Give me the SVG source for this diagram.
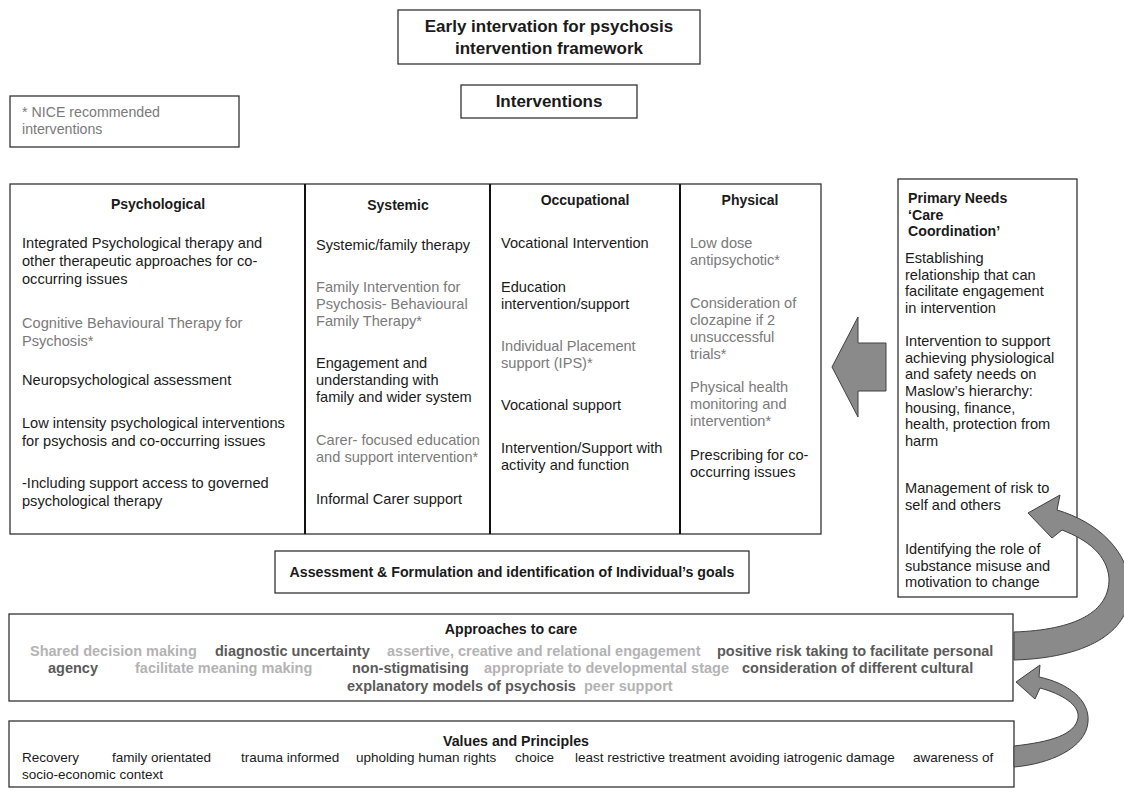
<svg xmlns="http://www.w3.org/2000/svg" width="1124" height="792" viewBox="0 0 1124 792">
<style>
text{font-family:"Liberation Sans",Arial,sans-serif;font-size:14.6px;fill:#1a1a1a}
.b{font-weight:bold;font-size:14.2px}
.h{font-weight:bold;text-anchor:middle;font-size:14px}
.t{font-weight:bold;font-size:17px;text-anchor:middle}
.g{fill:#7a7a7a}
.ap{font-weight:bold;font-size:14.5px}
.lg{fill:#b3b3b3}
.dg{fill:#5a5a5a}
.v{font-size:13.5px}
.box{fill:#fff;stroke:#333;stroke-width:1.3}
.div{stroke:#111;stroke-width:2}
.arr{fill:#8a8a8a;stroke:#404040;stroke-width:1}
</style>
<rect width="1124" height="792" fill="#fff"/>
<g id="title">
<rect class="box" x="398" y="10" width="302" height="54"/>
<text class="t" x="549" y="32">Early intervation for psychosis</text>
<text class="t" x="549" y="54">intervention framework</text>
</g>
<g id="interventions">
<rect class="box" x="461" y="85" width="176" height="33"/>
<text class="t" x="549" y="107">Interventions</text>
</g>
<g id="nice">
<rect class="box" x="10" y="96" width="229" height="51"/>
<text class="g" x="22" y="117" style="font-size:14.2px">* NICE recommended</text>
<text class="g" x="22" y="134" style="font-size:14.2px">interventions</text>
</g>
<g id="main">
<rect class="box" x="10" y="184" width="811" height="350" stroke="#222" stroke-width="1.5"/>
<line class="div" x1="305" y1="184" x2="305" y2="534"/>
<line class="div" x1="490" y1="184" x2="490" y2="534"/>
<line class="div" x1="680" y1="184" x2="680" y2="534"/>
</g>
<g id="psychological">
<text class="h" x="158" y="209">Psychological</text>
<text x="22" y="248">Integrated Psychological therapy and</text>
<text x="22" y="266">other therapeutic approaches for co-</text>
<text x="22" y="284">occurring issues</text>
<text class="g" x="22" y="328">Cognitive Behavioural Therapy for</text>
<text class="g" x="22" y="346">Psychosis*</text>
<text x="22" y="385">Neuropsychological assessment</text>
<text x="22" y="428">Low intensity psychological interventions</text>
<text x="22" y="446">for psychosis and co-occurring issues</text>
<text x="22" y="488">-Including support access to governed</text>
<text x="22" y="506">psychological therapy</text>
</g>
<g id="systemic">
<text class="h" x="398" y="210">Systemic</text>
<text x="316" y="250">Systemic/family therapy</text>
<text class="g" x="316" y="292">Family Intervention for</text>
<text class="g" x="316" y="309">Psychosis- Behavioural</text>
<text class="g" x="316" y="326">Family Therapy*</text>
<text x="316" y="368">Engagement and</text>
<text x="316" y="385">understanding with</text>
<text x="316" y="402">family and wider system</text>
<text class="g" x="316" y="445">Carer- focused education</text>
<text class="g" x="316" y="462">and support intervention*</text>
<text x="316" y="504">Informal Carer support</text>
</g>
<g id="occupational">
<text class="h" x="585" y="205">Occupational</text>
<text x="501" y="248">Vocational Intervention</text>
<text x="501" y="292">Education</text>
<text x="501" y="309">intervention/support</text>
<text class="g" x="501" y="351">Individual Placement</text>
<text class="g" x="501" y="368">support (IPS)*</text>
<text x="501" y="410">Vocational support</text>
<text x="501" y="453">Intervention/Support with</text>
<text x="501" y="470">activity and function</text>
</g>
<g id="physical">
<text class="h" x="750" y="205">Physical</text>
<text class="g" x="690" y="248">Low dose</text>
<text class="g" x="690" y="265">antipsychotic*</text>
<text class="g" x="690" y="308">Consideration of</text>
<text class="g" x="690" y="325">clozapine if 2</text>
<text class="g" x="690" y="342">unsuccessful</text>
<text class="g" x="690" y="359">trials*</text>
<text class="g" x="690" y="392">Physical health</text>
<text class="g" x="690" y="409">monitoring and</text>
<text class="g" x="690" y="426">intervention*</text>
<text x="690" y="460">Prescribing for co-</text>
<text x="690" y="477">occurring issues</text>
</g>
<g id="primary-needs">
<rect class="box" x="898" y="179" width="179" height="418"/>
<text class="b" x="908" y="203">Primary Needs</text>
<text class="b" x="908" y="219.5">‘Care</text>
<text class="b" x="908" y="236">Coordination’</text>
<text x="905" y="263">Establishing</text>
<text x="905" y="279.7">relationship that can</text>
<text x="905" y="296.3">facilitate engagement</text>
<text x="905" y="313">in intervention</text>
<text x="905" y="346">Intervention to support</text>
<text x="905" y="362.7">achieving physiological</text>
<text x="905" y="379.3">and safety needs on</text>
<text x="905" y="396">Maslow’s hierarchy:</text>
<text x="905" y="412.7">housing, finance,</text>
<text x="905" y="429.3">health, protection from</text>
<text x="905" y="446">harm</text>
<text x="905" y="493">Management of risk to</text>
<text x="905" y="509.7">self and others</text>
<text x="905" y="554">Identifying the role of</text>
<text x="905" y="570.7">substance misuse and</text>
<text x="905" y="587.3">motivation to change</text>
</g>
<g id="assessment">
<rect class="box" x="275" y="551" width="474" height="42"/>
<text class="h" x="512" y="577" style="font-size:14.2px">Assessment &amp; Formulation and identification of Individual’s goals</text>
</g>
<g id="approaches">
<rect class="box" x="9" y="614" width="1004" height="87"/>
<text class="h" x="511" y="634" style="font-size:14.2px">Approaches to care</text>
<text class="ap lg" x="30" y="656">Shared decision making</text>
<text class="ap dg" x="215" y="656">diagnostic uncertainty</text>
<text class="ap lg" x="387" y="656">assertive, creative and relational engagement</text>
<text class="ap dg" x="717" y="656">positive risk taking to facilitate personal</text>
<text class="ap dg" x="48" y="673">agency</text>
<text class="ap lg" x="135" y="673">facilitate meaning making</text>
<text class="ap dg" x="352" y="673">non-stigmatising</text>
<text class="ap lg" x="484" y="673">appropriate to developmental stage</text>
<text class="ap dg" x="742" y="673">consideration of different cultural</text>
<text class="ap dg" x="347" y="691">explanatory models of psychosis</text>
<text class="ap lg" x="584" y="691">peer support</text>
</g>
<g id="values">
<rect class="box" x="9" y="721" width="1005" height="66"/>
<text class="h" x="516" y="746" style="font-size:14.2px">Values and Principles</text>
<text class="v" x="22" y="762">Recovery</text>
<text class="v" x="112" y="762">family orientated</text>
<text class="v" x="241" y="762">trauma informed</text>
<text class="v" x="356" y="762">upholding human rights</text>
<text class="v" x="515" y="762">choice</text>
<text class="v" x="575" y="762">least restrictive treatment avoiding iatrogenic damage</text>
<text class="v" x="913" y="762">awareness of</text>
<text class="v" x="22" y="779">socio-economic context</text>
</g>
<g id="connectors">
<path class="arr" d="M832 367 L858 317 L858 343 L886 343 L886 391 L858 391 L858 417 Z"/>
<path class="arr" d="M1014 632 C1075 630 1110 612 1109 578 C1107 555 1088 540 1062 530 L1052 538 L1028 513 L1060 495 L1057 510 C1098 522 1130 552 1130 590 C1130 634 1084 658 1014 660 Z"/>
<path class="arr" d="M1014 746 C1050 742 1075 735 1078 718 C1080 705 1062 694 1040 688 L1035 699 L1016 682 L1040 665 L1039 677 C1068 683 1090 700 1088 722 C1086 748 1050 764 1014 767 Z"/>
</g>
</svg>
